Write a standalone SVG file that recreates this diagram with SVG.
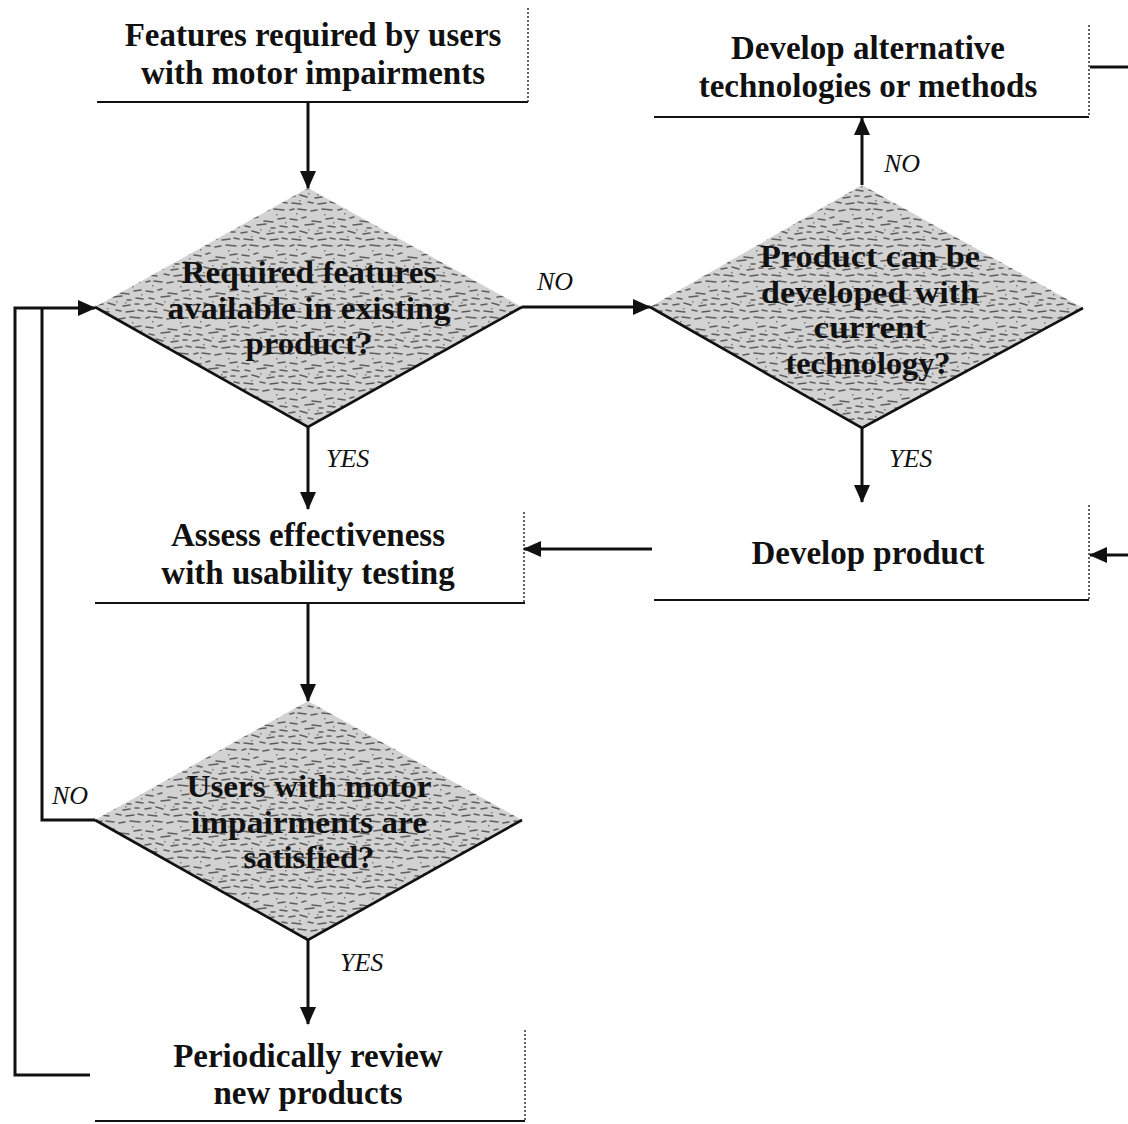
<svg xmlns="http://www.w3.org/2000/svg" width="1128" height="1124" viewBox="0 0 1128 1124">
<style>
  .t{font-family:"Liberation Serif","Times New Roman",serif;font-weight:bold;font-size:33px;fill:#111;text-anchor:middle}
  .d{font-family:"Liberation Serif","Times New Roman",serif;font-weight:bold;font-size:31px;fill:#111;text-anchor:middle}
  .l{font-family:"Liberation Serif","Times New Roman",serif;font-style:italic;font-size:26px;fill:#111}
  .base{stroke:#111;stroke-width:2.2;fill:none}
  .dot{stroke:#333;stroke-width:1.5;stroke-dasharray:2 2;fill:none}
  .edge{stroke:#111;stroke-width:2.6;fill:none}
  .c{stroke:#111;stroke-width:3;fill:none}
</style>
<defs>
  <marker id="ah" markerUnits="userSpaceOnUse" markerWidth="18" markerHeight="16" refX="17" refY="8" orient="auto">
    <path d="M0,0 L18,8 L0,16 z" fill="#111"/>
  </marker>
  <pattern id="tex" patternUnits="userSpaceOnUse" width="48" height="36">
    <rect width="48" height="36" fill="#d2d2d2"/>
    <g stroke="#5e5e5e" stroke-width="1.5" stroke-linecap="round">
      <line x1="2" y1="3" x2="9" y2="4"/>
      <line x1="14" y1="2" x2="18" y2="1"/>
      <line x1="24" y1="5" x2="33" y2="6"/>
      <line x1="38" y1="3" x2="45" y2="2"/>
      <line x1="5" y1="10" x2="10" y2="11"/>
      <line x1="17" y1="9" x2="26" y2="8"/>
      <line x1="31" y1="12" x2="35" y2="12"/>
      <line x1="40" y1="10" x2="47" y2="11"/>
      <line x1="1" y1="17" x2="7" y2="16"/>
      <line x1="12" y1="15" x2="19" y2="17"/>
      <line x1="27" y1="18" x2="34" y2="17"/>
      <line x1="39" y1="16" x2="43" y2="16"/>
      <line x1="4" y1="23" x2="13" y2="24"/>
      <line x1="20" y1="22" x2="25" y2="23"/>
      <line x1="30" y1="24" x2="38" y2="23"/>
      <line x1="42" y1="22" x2="47" y2="23"/>
      <line x1="2" y1="30" x2="6" y2="29"/>
      <line x1="10" y1="29" x2="18" y2="30"/>
      <line x1="23" y1="31" x2="29" y2="30"/>
      <line x1="34" y1="29" x2="44" y2="30"/>
    </g>
    <g fill="#7a7a7a">
      <rect x="20" y="13" width="1.5" height="1.5"/>
      <rect x="8" y="33" width="1.5" height="1.5"/>
      <rect x="36" y="34" width="1.5" height="1.5"/>
      <rect x="45" y="6" width="1.5" height="1.5"/>
      <rect x="11" y="20" width="1.5" height="1.5"/>
      <rect x="29" y="14" width="1.5" height="1.5"/>
    </g>
  </pattern>
</defs>

<g id="n1">
  <text class="t" x="313" y="46">Features required by users</text>
  <text class="t" x="313" y="84">with motor impairments</text>
  <line class="base" x1="97" y1="102" x2="528" y2="102"/>
  <line class="dot" x1="528" y1="8" x2="528" y2="102"/>
</g>

<g id="n2">
  <polygon points="308,188 522,307 308,427 95,307" fill="url(#tex)"/>
  <polyline class="edge" points="95,307 308,427 522,307"/>
  <text class="d" x="309" y="283" textLength="255" lengthAdjust="spacingAndGlyphs">Required features</text>
  <text class="d" x="309" y="319" textLength="283" lengthAdjust="spacingAndGlyphs">available in existing</text>
  <text class="d" x="309" y="354" textLength="127" lengthAdjust="spacingAndGlyphs">product?</text>
</g>

<g id="n3">
  <polygon points="862,185 1083,308 862,428 650,307" fill="url(#tex)"/>
  <polyline class="edge" points="650,307 862,428 1083,308"/>
  <text class="d" x="870" y="267" textLength="220" lengthAdjust="spacingAndGlyphs">Product can be</text>
  <text class="d" x="870" y="303" textLength="218" lengthAdjust="spacingAndGlyphs">developed with</text>
  <text class="d" x="870" y="338" textLength="113" lengthAdjust="spacingAndGlyphs">current</text>
  <text class="d" x="868" y="374" textLength="165" lengthAdjust="spacingAndGlyphs">technology?</text>
</g>

<g id="n4">
  <text class="t" x="868" y="59">Develop alternative</text>
  <text class="t" x="868" y="97">technologies or methods</text>
  <line class="base" x1="654" y1="117" x2="1089" y2="117"/>
  <line class="dot" x1="1089" y1="25" x2="1089" y2="117"/>
</g>

<g id="n5">
  <text class="t" x="868" y="564">Develop product</text>
  <line class="base" x1="654" y1="600" x2="1089" y2="600"/>
  <line class="dot" x1="1089" y1="505" x2="1089" y2="600"/>
</g>

<g id="n6">
  <text class="t" x="308" y="546">Assess effectiveness</text>
  <text class="t" x="308" y="584">with usability testing</text>
  <line class="base" x1="95" y1="603" x2="525" y2="603"/>
  <line class="dot" x1="524" y1="512" x2="524" y2="603"/>
</g>

<g id="n7">
  <polygon points="308,701 522,820 308,940 95,820" fill="url(#tex)"/>
  <polyline class="edge" points="95,820 308,940 522,820"/>
  <text class="d" x="309" y="797" textLength="245" lengthAdjust="spacingAndGlyphs">Users with motor</text>
  <text class="d" x="309" y="833" textLength="236" lengthAdjust="spacingAndGlyphs">impairments are</text>
  <text class="d" x="309" y="868" textLength="131" lengthAdjust="spacingAndGlyphs">satisfied?</text>
</g>

<g id="n8">
  <text class="t" x="308" y="1067">Periodically review</text>
  <text class="t" x="308" y="1104">new products</text>
  <line class="base" x1="95" y1="1121" x2="525" y2="1121"/>
  <line class="dot" x1="525" y1="1030" x2="525" y2="1120"/>
</g>

<g id="connectors">
  <line class="c" x1="308" y1="103" x2="308" y2="188" marker-end="url(#ah)"/>
  <line class="c" x1="522" y1="307" x2="650" y2="307" marker-end="url(#ah)"/>
  <line class="c" x1="862" y1="185" x2="862" y2="118" marker-end="url(#ah)"/>
  <line class="c" x1="862" y1="428" x2="862" y2="502" marker-end="url(#ah)"/>
  <line class="c" x1="652" y1="549" x2="524" y2="549" marker-end="url(#ah)"/>
  <line class="c" x1="308" y1="427" x2="308" y2="509" marker-end="url(#ah)"/>
  <line class="c" x1="308" y1="604" x2="308" y2="701" marker-end="url(#ah)"/>
  <line class="c" x1="308" y1="940" x2="308" y2="1024" marker-end="url(#ah)"/>
  <polyline class="c" points="95,820 42,820 42,308"/>
  <polyline class="c" points="90,1075 15,1075 15,308 95,308" marker-end="url(#ah)"/>
  <line class="c" x1="1090" y1="67" x2="1128" y2="67"/>
  <line class="c" x1="1128" y1="555" x2="1090" y2="555" marker-end="url(#ah)"/>
  <text class="l" x="537" y="290">NO</text>
  <text class="l" x="884" y="172">NO</text>
  <text class="l" x="326" y="467">YES</text>
  <text class="l" x="889" y="467">YES</text>
  <text class="l" x="52" y="804">NO</text>
  <text class="l" x="340" y="971">YES</text>
</g>
</svg>
